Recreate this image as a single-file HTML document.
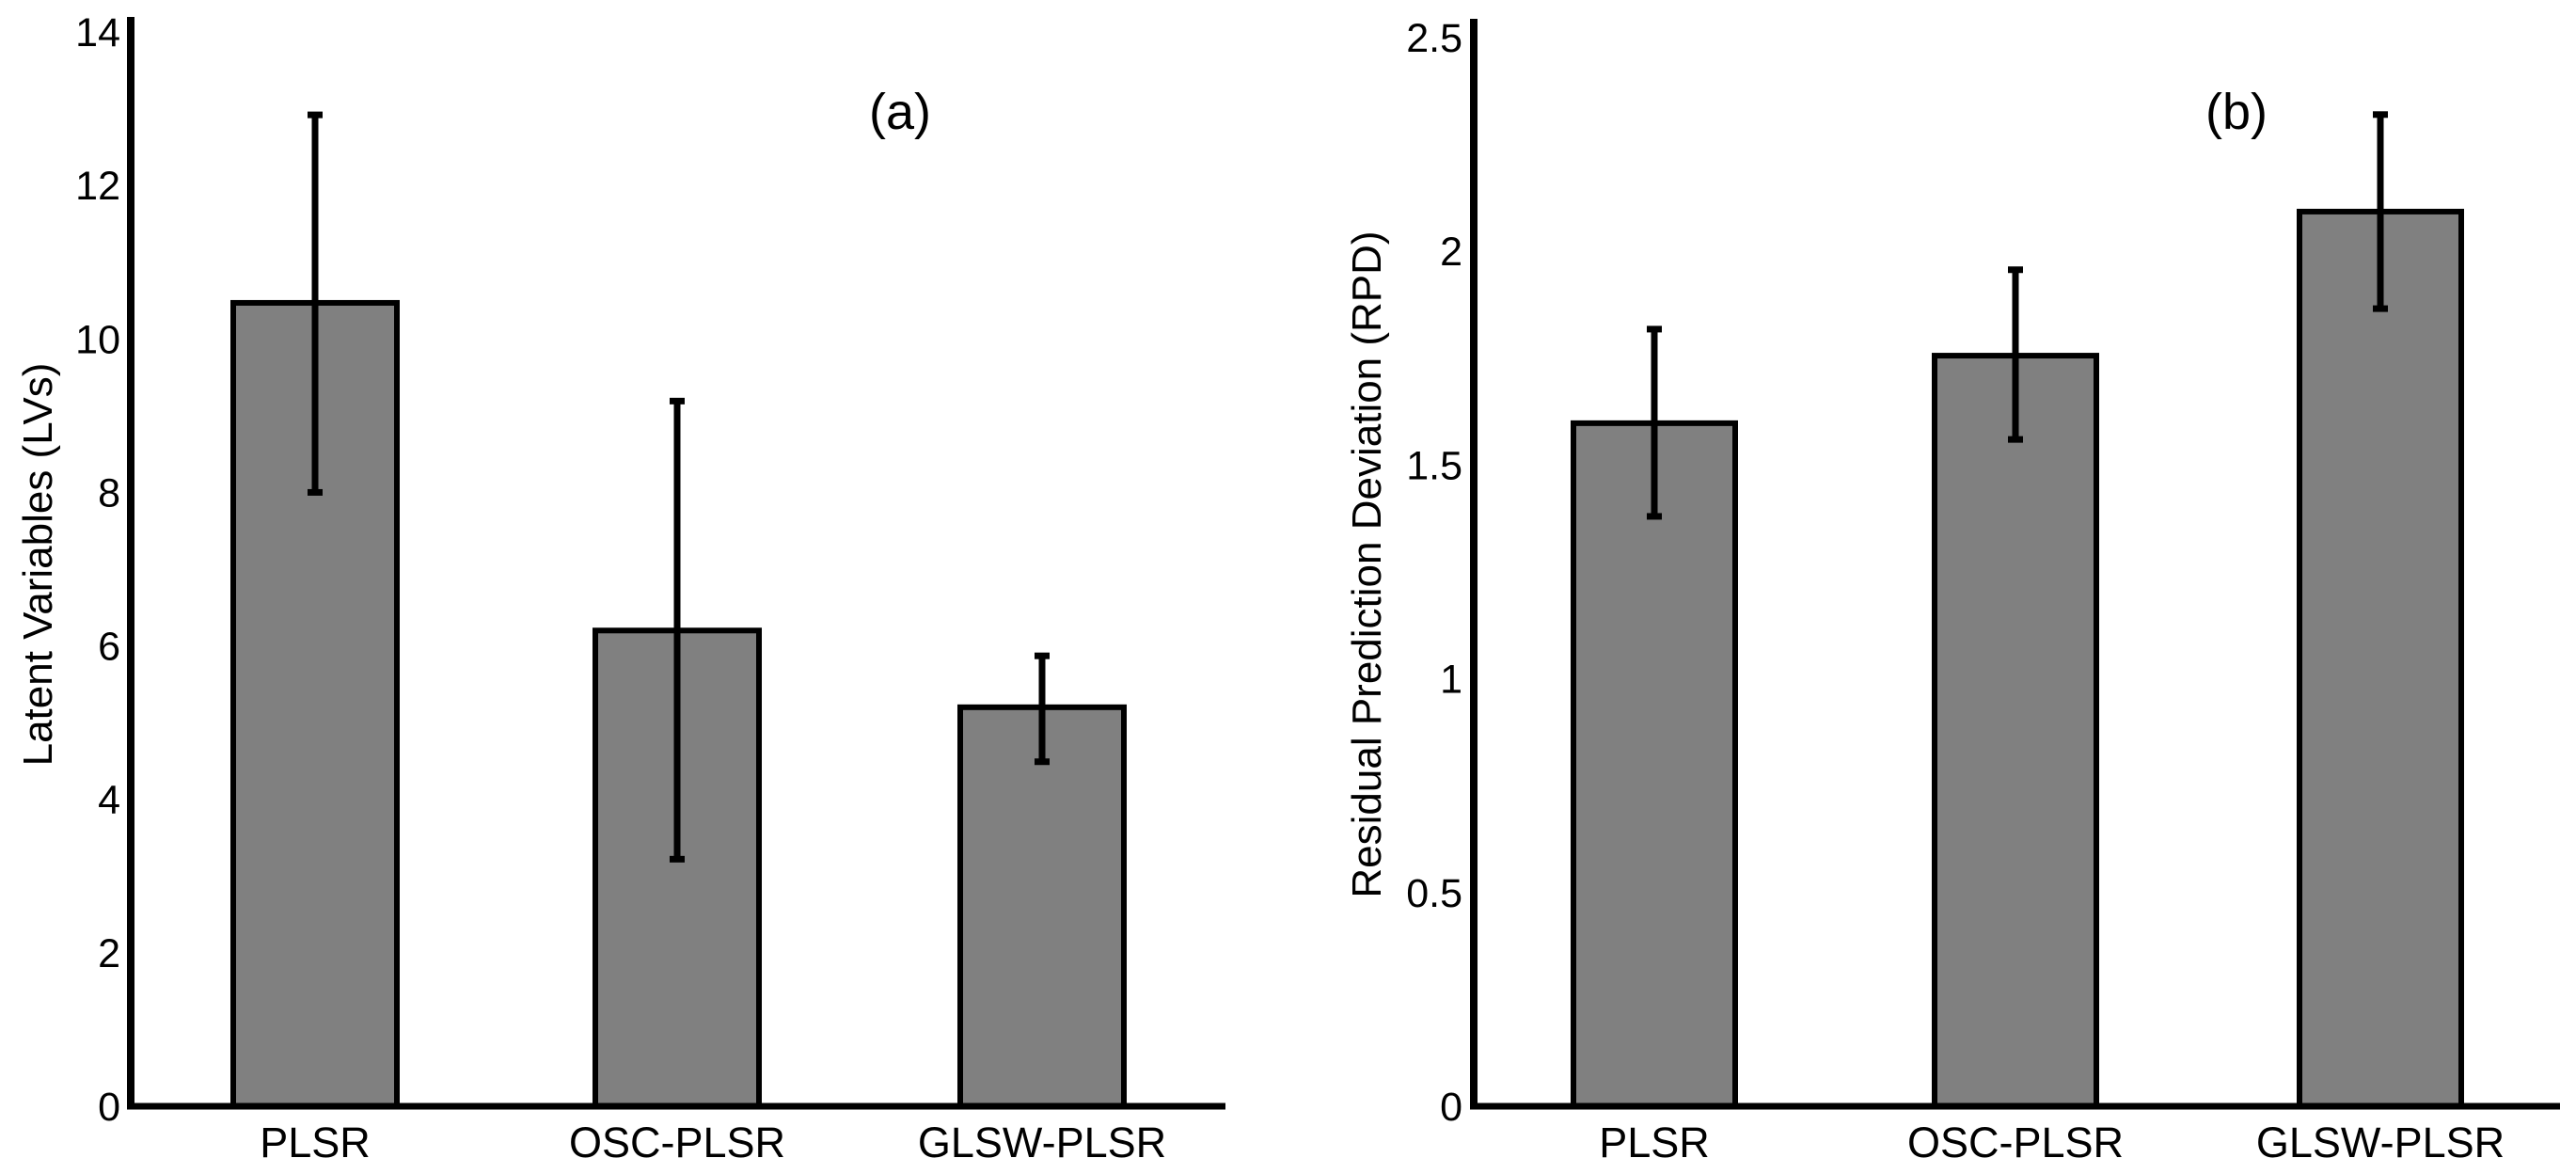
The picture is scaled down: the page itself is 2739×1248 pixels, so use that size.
<!DOCTYPE html>
<html><head><meta charset="utf-8"><style>
html,body{margin:0;padding:0;background:#fff;}
svg{display:block;}
text{font-family:"Liberation Sans",Arial,sans-serif;fill:#000;}
</style></head><body>
<svg id="chart" width="2739" height="1248" viewBox="0 0 2739 1248" xmlns="http://www.w3.org/2000/svg"></svg>
<script>
const categories = ["PLSR", "OSC-PLSR", "GLSW-PLSR"];
const lvValues = [10.47, 6.2, 5.2];
const lvErrLow = [8.0, 3.22, 4.49];
const lvErrHigh = [12.92, 9.19, 5.87];
const lvTicks = [0, 2, 4, 6, 8, 10, 12, 14];
const rpdValues = [1.598, 1.756, 2.093];
const rpdErrLow = [1.38, 1.56, 1.866];
const rpdErrHigh = [1.818, 1.957, 2.32];
const rpdTicks = [0, 0.5, 1, 1.5, 2, 2.5];
const rpdTickLabels = ["0", "0.5", "1", "1.5", "2", "2.5"];

const svg = document.getElementById('chart');
const NS = "http://www.w3.org/2000/svg";
function mk(tag, attrs) {
  const e = document.createElementNS(NS, tag);
  for (const k in attrs) e.setAttribute(k, attrs[k]);
  svg.appendChild(e);
  return e;
}

function drawPanel(cfg) {
  const y = v => cfg.y0 - (v - cfg.vmin) / (cfg.vmax - cfg.vmin) * (cfg.y0 - cfg.yTop);
  // bars
  cfg.values.forEach((v, i) => {
    const cx = cfg.centers[i];
    const r = mk('rect', {x: cx - cfg.bw / 2, y: y(v), width: cfg.bw, height: cfg.y0 - y(v), fill: '#808080', stroke: '#000', 'stroke-width': 6});
    
    
  });
  // error bars
  cfg.values.forEach((v, i) => {
    const cx = cfg.centers[i];
    const g = document.createElementNS(NS, 'g');
    
    
    svg.appendChild(g);
    const lines = [
      [cx, y(cfg.lo[i]), cx, y(cfg.hi[i])],
      [cx - 8, y(cfg.lo[i]), cx + 8, y(cfg.lo[i])],
      [cx - 8, y(cfg.hi[i]), cx + 8, y(cfg.hi[i])]
    ];
    lines.forEach(l => {
      const e = document.createElementNS(NS, 'line');
      e.setAttribute('x1', l[0]); e.setAttribute('y1', l[1]);
      e.setAttribute('x2', l[2]); e.setAttribute('y2', l[3]);
      e.setAttribute('stroke', '#000'); e.setAttribute('stroke-width', 7);
      g.appendChild(e);
    });
  });
  // axes
  const ya = mk('line', {x1: cfg.ax, y1: cfg.axTop, x2: cfg.ax, y2: cfg.y0 + 3, stroke: '#000', 'stroke-width': 8});
  
  
  const xa = mk('line', {x1: cfg.ax - 4, y1: cfg.y0, x2: cfg.axRight, y2: cfg.y0, stroke: '#000', 'stroke-width': 7});
  
  
  // ticks
  cfg.ticks.forEach((t, i) => {
    const tx = mk('text', {x: cfg.tickX, y: y(t) + 15, 'text-anchor': 'end', 'font-size': 43});
    tx.textContent = cfg.tickLabels[i];
    
    
  });
  // categories
  categories.forEach((c, i) => {
    const tx = mk('text', {x: cfg.centers[i], y: 1230, 'text-anchor': 'middle', 'font-size': 45});
    tx.textContent = c;
    
    
  });
  // y title
  const tt = mk('text', {x: 0, y: 0, 'text-anchor': 'middle', 'font-size': 44, transform: 'translate(' + cfg.titleX + ',600) rotate(-90)'});
  tt.textContent = cfg.title;
  
  
  const pl = mk('text', {x: cfg.panelX, y: 137, 'text-anchor': 'middle', 'font-size': 54});
  pl.textContent = cfg.panel;
  
  
}

drawPanel({prefix: 'lv', values: lvValues, lo: lvErrLow, hi: lvErrHigh, ticks: lvTicks,
  tickLabels: lvTicks.map(String), vmin: 0, vmax: 14, y0: 1176, yTop: 34,
  centers: [335, 720, 1108], bw: 174, ax: 139, axTop: 18, axRight: 1303, tickX: 128,
  title: 'Latent Variables (LVs)', titleX: 55, panel: '(a)', panelX: 957});
drawPanel({prefix: 'rpd', values: rpdValues, lo: rpdErrLow, hi: rpdErrHigh, ticks: rpdTicks,
  tickLabels: rpdTickLabels, vmin: 0, vmax: 2.5, y0: 1176, yTop: 40,
  centers: [1759, 2143, 2531], bw: 172, ax: 1567, axTop: 20, axRight: 2722, tickX: 1555,
  title: 'Residual Prediction Deviation (RPD)', titleX: 1468, panel: '(b)', panelX: 2378});
</script>
</body></html>
